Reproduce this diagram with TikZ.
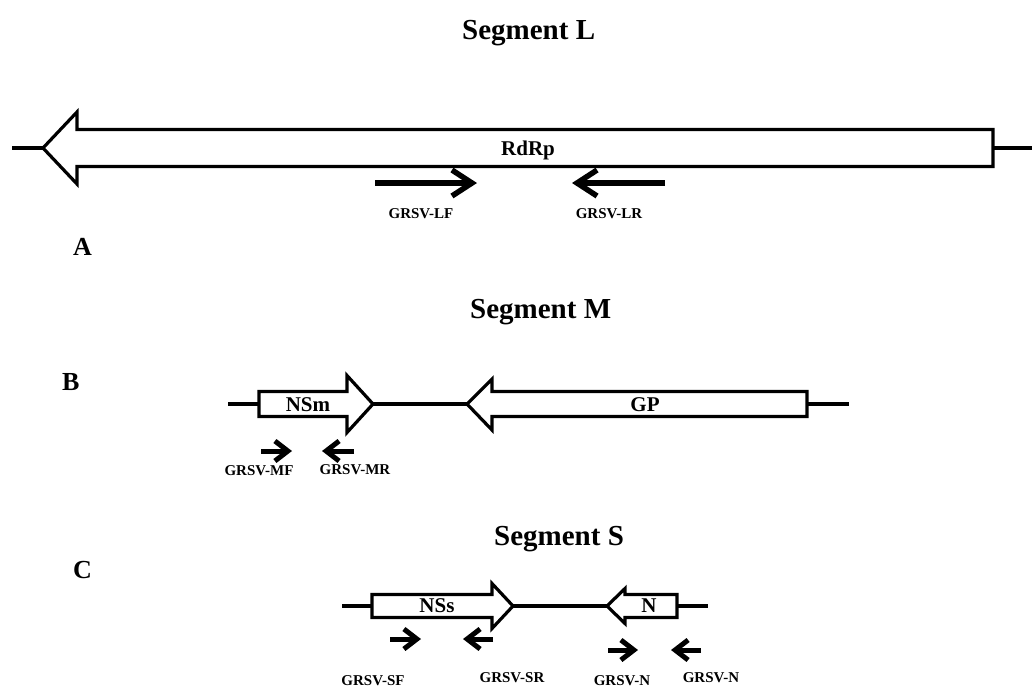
\documentclass[tikz,border=0pt]{standalone}
\usepackage{fontspec}
\setmainfont{Liberation Serif}
\usetikzlibrary{arrows.meta}
\begin{document}
\begin{tikzpicture}[x=1pt,y=-1pt,
  gene/.style={draw=black,line width=3.2pt,fill=white,line join=miter},
  backbone/.style={line width=4.5pt},
  primer/.style={line width=5.5pt,-{Straight Barb[length=20pt,width=26pt]}},
  smallprimer/.style={line width=5pt,-{Straight Barb[length=13pt,width=20pt]}},
  title/.style={font=\bfseries\fontsize{29}{33}\selectfont,anchor=base west,inner sep=0pt},
  panel/.style={font=\bfseries\fontsize{26}{30}\selectfont,anchor=base west,inner sep=0pt},
  genelabel/.style={font=\bfseries\fontsize{21}{24}\selectfont,inner sep=0pt},
  primerlabel/.style={font=\bfseries\fontsize{15}{17}\selectfont,inner sep=0pt},
]
\useasboundingbox (0,0) rectangle (1032,697);
\fill[white] (0,0) rectangle (1032,697);

% ---------------- Segment L ----------------
\node[title] (tL) at (462,39) {Segment L};
\coordinate (L0) at (12,148);
\coordinate (Ltip) at (43,148);
\coordinate (Ltail) at (993,148);
\coordinate (L1) at (1032,148);
\draw[backbone] (L0) -- (Ltip);
\draw[backbone] (Ltail) -- (L1);
\draw[gene] (993,129.5) -- (77,129.5) -- (77,112) -- (Ltip) -- (77,184)
  -- (77,166.5) -- (993,166.5) -- cycle;
\node[genelabel] (rdrp) at (528,150) {RdRp};

\coordinate (lf1) at (375,183);
\coordinate (lf2) at (477,183);
\coordinate (lr1) at (665,183);
\coordinate (lr2) at (572,183);
\draw[primer] (lf1) -- (lf2);
\draw[primer] (lr1) -- (lr2);
\node[primerlabel] (lfl) at (421,214) {GRSV-LF};
\node[primerlabel] (lrl) at (609,214) {GRSV-LR};
\node[panel] (pA) at (73,255) {A};

% ---------------- Segment M ----------------
\node[title] (tM) at (470,318) {Segment M};
\node[panel] (pB) at (62,390) {B};
\coordinate (M0) at (228,404);
\coordinate (NSmtail) at (259,404);
\coordinate (NSmtip) at (373,404);
\coordinate (GPtip) at (467,404);
\coordinate (GPtail) at (807,404);
\coordinate (M1) at (849,404);
\draw[backbone] (M0) -- (NSmtail);
\draw[backbone] (NSmtip) -- (GPtip);
\draw[backbone] (GPtail) -- (M1);
\draw[gene] (NSmtail |- 0,391.5) -- (347,391.5) -- (347,375.5) -- (NSmtip)
  -- (347,432.5) -- (347,416.5) -- (NSmtail |- 0,416.5) -- cycle;
\draw[gene] (GPtail |- 0,391.5) -- (492,391.5) -- (492,379) -- (GPtip)
  -- (492,430) -- (492,416.5) -- (GPtail |- 0,416.5) -- cycle;
\node[genelabel] (nsm) at (308,405) {NSm};
\node[genelabel] (gp) at (645,405) {GP};

\coordinate (mf1) at (261,451);
\coordinate (mf2) at (292,451);
\coordinate (mr1) at (354,451);
\coordinate (mr2) at (322,451);
\draw[smallprimer] (mf1) -- (mf2);
\draw[smallprimer] (mr1) -- (mr2);
\node[primerlabel] (mfl) at (259,471) {GRSV-MF};
\node[primerlabel] (mrl) at (355,470) {GRSV-MR};

% ---------------- Segment S ----------------
\node[title] (tS) at (494,545) {Segment S};
\node[panel] (pC) at (73,578) {C};
\coordinate (S0) at (342,606);
\coordinate (NSstail) at (372,606);
\coordinate (NSstip) at (513,606);
\coordinate (Ntip) at (607,606);
\coordinate (Ntail) at (677,606);
\coordinate (S1) at (708,606);
\draw[backbone] (S0) -- (NSstail);
\draw[backbone] (NSstip) -- (Ntip);
\draw[backbone] (Ntail) -- (S1);
\draw[gene] (NSstail |- 0,594.5) -- (492,594.5) -- (492,583.5) -- (NSstip)
  -- (492,628.5) -- (492,617.5) -- (NSstail |- 0,617.5) -- cycle;
\draw[gene] (Ntail |- 0,594.5) -- (625,594.5) -- (625,588.5) -- (Ntip)
  -- (625,623.5) -- (625,617.5) -- (Ntail |- 0,617.5) -- cycle;
\node[genelabel] (nss) at (437,606) {NSs};
\node[genelabel] (nn) at (649,606) {N};

\coordinate (sf1) at (390,639);
\coordinate (sf2) at (421,639);
\coordinate (sr1) at (493,639);
\coordinate (sr2) at (463,639);
\coordinate (nf1) at (608,650);
\coordinate (nf2) at (638,650);
\coordinate (nr1) at (701,650);
\coordinate (nr2) at (671,650);
\draw[smallprimer] (sf1) -- (sf2);
\draw[smallprimer] (sr1) -- (sr2);
\draw[smallprimer] (nf1) -- (nf2);
\draw[smallprimer] (nr1) -- (nr2);
\node[primerlabel] (sfl) at (373,681) {GRSV-SF};
\node[primerlabel] (srl) at (512,678) {GRSV-SR};
\node[primerlabel] (nfl) at (622,681) {GRSV-N};
\node[primerlabel] (nrl) at (711,678) {GRSV-N};
\end{tikzpicture}
\end{document}
